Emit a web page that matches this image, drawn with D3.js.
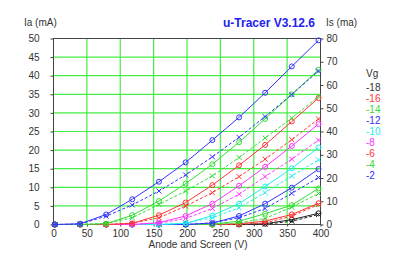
<!DOCTYPE html>
<html>
<head>
<meta charset="utf-8">
<script src="https://cdn.jsdelivr.net/npm/d3@7"></script>
<style>
  body { margin: 0; background: #fff; }
  text { font-family: "Liberation Sans Narrow", "Liberation Sans", Arial, sans-serif; font-size: 10px; fill: #333; }
</style>
</head>
<body>
<div id="chart"></div>
<script>
//////////////////////////////////////////////////////////////
// Data
//////////////////////////////////////////////////////////////

//Anode & screen voltage of each measured point
var voltages = [2, 40, 79, 118, 158, 198, 238, 278, 317, 357, 397];

//Grid voltages, one curve each
var gridVolts = [-18, -16, -14, -12, -10, -8, -6, -4, -2];
var curveColors = ["#202020", "#ff3333", "#33dd33", "#3333ff", "#22eeee", "#ff33ff", "#ff3333", "#33dd33", "#3333ff"];

//Anode current Ia (mA), left axis
var iaValues = [
  [0, 0, 0, 0, 0, 0, 0, 0, 0.2, 1.3, 3.0],        //-18
  [0, 0, 0, 0, 0, 0, 0, 0.2, 0.9, 2.7, 5.7],      //-16
  [0, 0, 0, 0, 0, 0, 0.1, 0.9, 2.9, 5.2, 9.7],    //-14
  [0, 0, 0, 0, 0, 0, 0.4, 2.3, 5.6, 9.9, 14.9],   //-12
  [0, 0, 0, 0, 0, 0.3, 2.4, 5.6, 10.2, 15.1, 20.7], //-10
  [0, 0, 0, 0, 0.5, 2.3, 5.6, 10.4, 15.5, 21.1, 27.0], //-8
  [0, 0, 0, 0.3, 2.5, 5.9, 10.6, 15.9, 21.4, 27.7, 34.0], //-6
  [0, 0, 0.2, 2.5, 6.3, 11.0, 16.2, 22.1, 28.4, 35.0, 41.6], //-4
  [0, 0.2, 2.7, 6.8, 11.5, 16.7, 22.7, 28.8, 35.4, 42.5, 49.5]  //-2
];

//Screen current Is (mA), right axis
var isValues = [
  [0, 0, 0, 0, 0, 0, 0, 0, 0.1, 1.4, 4.3],        //-18
  [0, 0, 0, 0, 0, 0, 0, 0, 0.7, 3.6, 8.6],        //-16
  [0, 0, 0, 0, 0, 0, 0, 0.7, 2.6, 7.5, 13.3],     //-14
  [0, 0, 0, 0, 0, 0, 0.7, 2.9, 6.9, 13.4, 20.2],  //-12
  [0, 0, 0, 0, 0, 0.6, 2.9, 7.2, 13.7, 20.9, 27.8], //-10
  [0, 0, 0, 0, 0.6, 2.6, 6.9, 13.0, 20.6, 28.1, 36.3], //-8
  [0, 0, 0, 0.6, 2.9, 7.9, 13.7, 20.6, 28.1, 36.5, 45.4], //-6
  [0, 0, 0.5, 2.9, 8.6, 14.4, 20.9, 28.8, 37.2, 45.8, 55.0], //-4
  [0, 0.2, 3.6, 8.4, 14.4, 21.3, 29.1, 37.5, 46.4, 55.9, 66.0]  //-2
];

var xTicks = [0, 50, 100, 150, 200, 250, 300, 350, 400];
var iaTicks = [0, 5, 10, 15, 20, 25, 30, 35, 40, 45, 50];
var isTicks = [0, 10, 20, 30, 40, 50, 60, 70, 80];

//////////////////////////////////////////////////////////////
// Set up
//////////////////////////////////////////////////////////////

var width = 400, height = 261,
    plotLeft = 53.5, plotRight = 320.5, plotTop = 38.5, plotBottom = 224.5;

var svg = d3.select("#chart").append("svg")
    .attr("width", width)
    .attr("height", height);

var x = d3.scaleLinear().domain([0, 400]).range([plotLeft, plotRight]);
var yA = d3.scaleLinear().domain([0, 50]).range([plotBottom, plotTop]);
var yS = d3.scaleLinear().domain([0, 80]).range([plotBottom, plotTop]);

//Green grid
var grid = svg.append("g").attr("class", "grid");
grid.selectAll(".vline")
    .data(xTicks.slice(1, -1))
  .enter().append("line")
    .attr("x1", function(d) { return x(d); })
    .attr("x2", function(d) { return x(d); })
    .attr("y1", plotTop).attr("y2", plotBottom)
    .style("stroke", "#44ee44").style("stroke-width", 1.2);
grid.selectAll(".hline")
    .data(iaTicks.slice(1, -1))
  .enter().append("line")
    .attr("x1", plotLeft).attr("x2", plotRight)
    .attr("y1", function(d) { return yA(d); })
    .attr("y2", function(d) { return yA(d); })
    .style("stroke", "#44ee44").style("stroke-width", 1.2);

//Axes
var axisLeft = d3.axisLeft(yA).tickValues(iaTicks).tickSize(3).tickPadding(11);
var axisRight = d3.axisRight(yS).tickValues(isTicks).tickSize(3).tickPadding(3);
var axisBottom = d3.axisBottom(x).tickValues(xTicks).tickSize(2).tickPadding(3);

svg.append("g").attr("transform", "translate(" + plotLeft + ",0)").call(axisLeft);
svg.append("g").attr("transform", "translate(" + plotRight + ",0)").call(axisRight);
svg.append("g").attr("transform", "translate(0," + plotBottom + ")").call(axisBottom);

svg.selectAll(".domain").remove();
svg.selectAll(".tick line").style("stroke", "#444");
svg.selectAll(".tick text").style("font-size", "10px").style("fill", "#333")
    .style("font-family", "'Liberation Sans Narrow', 'Liberation Sans', Arial, sans-serif");

//Frame round the plot
svg.append("rect")
    .attr("x", plotLeft).attr("y", plotTop)
    .attr("width", plotRight - plotLeft).attr("height", plotBottom - plotTop)
    .style("fill", "none").style("stroke", "#444").style("stroke-width", 1);

//////////////////////////////////////////////////////////////
// Curves
//////////////////////////////////////////////////////////////

var lineA = d3.line().x(function(d, i) { return x(voltages[i]); }).y(function(d) { return yA(d); });
var lineS = d3.line().x(function(d, i) { return x(voltages[i]); }).y(function(d) { return yS(d); });

var curves = svg.append("g").attr("class", "curves");

gridVolts.forEach(function(vg, k) {
  var col = curveColors[k];
  var g = curves.append("g");

  //screen current: dashed with crosses
  g.append("path")
      .attr("d", lineS(isValues[k]))
      .style("fill", "none").style("stroke", col)
      .style("stroke-width", 1).style("stroke-dasharray", "3,2");
  g.selectAll(".cross")
      .data(isValues[k])
    .enter().append("path")
      .attr("d", function(d, i) {
        var cx = x(voltages[i]), cy = yS(d), s = 2.5;
        return "M" + (cx - s) + "," + (cy - s) + "L" + (cx + s) + "," + (cy + s) +
               "M" + (cx - s) + "," + (cy + s) + "L" + (cx + s) + "," + (cy - s);
      })
      .style("stroke", col).style("stroke-width", 1);

  //anode current: solid with circles
  g.append("path")
      .attr("d", lineA(iaValues[k]))
      .style("fill", "none").style("stroke", col).style("stroke-width", 1);
  g.selectAll(".dot")
      .data(iaValues[k])
    .enter().append("circle")
      .attr("cx", function(d, i) { return x(voltages[i]); })
      .attr("cy", function(d) { return yA(d); })
      .attr("r", 2.5)
      .style("fill", "none").style("stroke", col).style("stroke-width", 1);
});

//////////////////////////////////////////////////////////////
// Titles and legend
//////////////////////////////////////////////////////////////

svg.append("text")
    .attr("x", 24).attr("y", 26)
    .text("Ia (mA)");
svg.append("text")
    .attr("x", 326).attr("y", 26)
    .text("Is (ma)");
svg.append("text")
    .attr("x", 269).attr("y", 27)
    .style("text-anchor", "middle")
    .style("font-family", "'Liberation Sans', Arial, sans-serif")
    .style("font-weight", "bold")
    .style("font-size", "12px")
    .style("fill", "#2222ee")
    .text("u-Tracer V3.12.6");
svg.append("text")
    .attr("x", 198).attr("y", 248)
    .style("text-anchor", "middle")
    .text("Anode and Screen (V)");

var legend = svg.append("g").attr("transform", "translate(366,0)");
legend.append("text").attr("x", 0).attr("y", 77).text("Vg");
legend.selectAll(".vg")
    .data(gridVolts)
  .enter().append("text")
    .attr("x", 0)
    .attr("y", function(d, i) { return 90.5 + i * 11; })
    .style("fill", function(d, i) { return curveColors[i] === "#202020" ? "#333" : curveColors[i]; })
    .text(function(d) { return d; });
</script>
</body>
</html>
